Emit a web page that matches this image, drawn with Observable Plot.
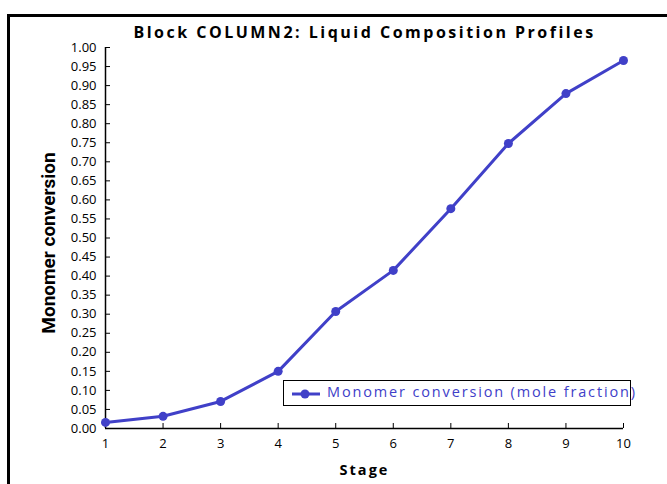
<!DOCTYPE html>
<html><head><meta charset="utf-8">
<script src="https://cdn.jsdelivr.net/npm/d3@7"></script>
<script src="https://cdn.jsdelivr.net/npm/@observablehq/plot@0.6"></script>
<style>
body{margin:0;background:#fff;font-family:"Open Sans",sans-serif;}
#wrap{position:relative;width:667px;height:484px;overflow:hidden;}
#frame{position:absolute;left:7px;top:14px;width:700px;height:520px;border:3px solid #000;pointer-events:none;}
#legend{position:absolute;left:283px;top:380px;width:346px;height:24px;border:1px solid #000;background:#fff;}
#legend svg{position:absolute;left:7px;top:4px;}
#legend span{position:absolute;left:43px;top:1px;color:#4040c8;font-size:14.5px;letter-spacing:1.85px;white-space:nowrap;}
</style></head><body>
<div id="wrap"><div id="chart"></div><div id="frame"></div>
<div id="legend"><svg width="30" height="18"><line x1="1" y1="9" x2="29" y2="9" stroke="#4040c8" stroke-width="3"/><circle cx="14" cy="9" r="4.5" fill="#4040c8"/></svg><span>Monomer conversion (mole fraction)</span></div>
</div>
<script>
const stages = [1,2,3,4,5,6,7,8,9,10];
const conversion = [0.016,0.032,0.071,0.150,0.307,0.415,0.577,0.748,0.879,0.966];
const yTicks = d3.range(0,21).map(i=>i*0.05);
const title = "Block COLUMN2: Liquid Composition Profiles";
const xLabel = "Stage";
const yLabel = "Monomer conversion";
const data = stages.map((s,i)=>({stage:s, value:conversion[i]}));
const color = "#4040c8";
const chart = Plot.plot({
  width:667, height:484,
  marginLeft:105, marginRight:44, marginTop:47, marginBottom:56,
  style:{fontFamily:"Open Sans, sans-serif", fontSize:"13px", color:"#000"},
  x:{domain:[1,10]},
  y:{domain:[0,1]},
  marks:[
    Plot.ruleY([0],{stroke:"#000",strokeWidth:1.5}),
    Plot.ruleX([1],{stroke:"#000",strokeWidth:1.5}),
    Plot.axisY(yTicks,{tickSize:-5, tickPadding:14, tickFormat:d=>d.toFixed(2), label:null, fontSize:13}),
    Plot.axisX(stages,{tickSize:-5, tickPadding:15, tickFormat:d=>String(d), label:null, fontSize:13}),
    Plot.line(data,{x:"stage",y:"value",stroke:color,strokeWidth:3}),
    Plot.dot(data,{x:"stage",y:"value",fill:color,r:4.5}),
    Plot.text([title],{frameAnchor:"top",dy:-21,fontWeight:"bold",fontSize:16}),
    Plot.text([xLabel],{frameAnchor:"bottom",dy:46,fontWeight:"bold",fontSize:14.5}),
    Plot.text([yLabel],{frameAnchor:"left",textAnchor:"middle",dx:-57,dy:5,rotate:-90,fontWeight:"bold",fontSize:19,fontFamily:"Liberation Sans Narrow, Roboto, sans-serif"})
  ]
});
d3.select(chart).selectAll("text").filter(function(){return this.textContent===title;}).style("letter-spacing","2.5px");
d3.select(chart).selectAll("text").filter(function(){return this.textContent===xLabel;}).style("letter-spacing","2px");
document.getElementById("chart").appendChild(chart);
</script></body></html>
